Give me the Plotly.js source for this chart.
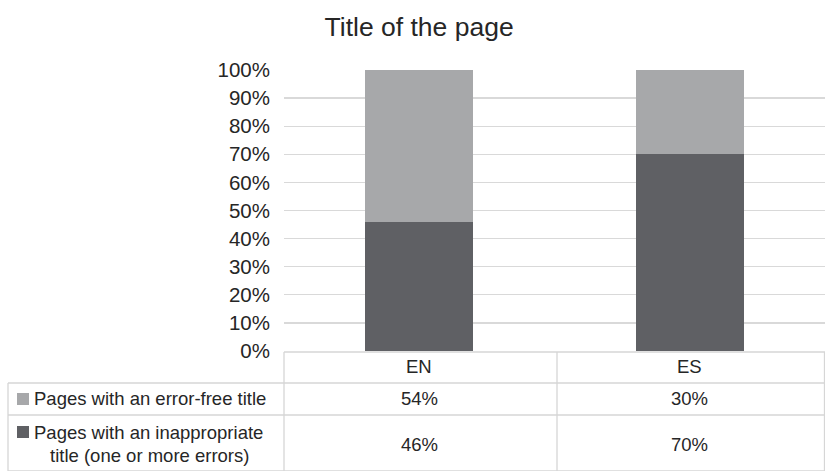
<!DOCTYPE html>
<html><head><meta charset="utf-8">
<script src="https://cdn.plot.ly/plotly-3.0.1.min.js"></script>
<style>html,body{margin:0;padding:0;background:#fff}#chart{width:825px;height:471px}</style>
</head><body><div id="chart"></div>
<script>
const categories = ['EN', 'ES'];
const seriesNames = ['Pages with an error-free title', 'Pages with an inappropriate', 'title (one or more errors)'];
const errorFree = [0.54, 0.30];
const inappropriate = [0.46, 0.70];
const colors = {errorFree: '#a7a8aa', inappropriate: '#5f6064'};

const W = 825, H = 471, ML = 284, MR = 0, MT = 70, MB = 120;
const PW = W - ML - MR, PH = H - MT - MB;
const xp = px => (px - ML) / PW;
const yp = py => (H - MB - py) / PH;
const font = 'Arial, Liberation Sans, Helvetica, sans-serif';
const txt = '#262626';
const lineCol = '#d6d6d6';
const TFS = 18.5;

const traces = [
  {type: 'bar', x: categories, y: inappropriate, name: seriesNames[1], marker: {color: colors.inappropriate}, width: 0.4, hoverinfo: 'skip'},
  {type: 'bar', x: categories, y: errorFree, name: seriesNames[0], marker: {color: colors.errorFree}, width: 0.4, hoverinfo: 'skip'}
];

const shapes = [];
function hline(x0, x1, y) { shapes.push({type: 'line', xref: 'paper', yref: 'paper', x0: xp(x0), x1: xp(x1), y0: yp(y), y1: yp(y), line: {color: lineCol, width: 1.3}}); }
function vline(x, y0, y1) { shapes.push({type: 'line', xref: 'paper', yref: 'paper', x0: xp(x), x1: xp(x), y0: yp(y0), y1: yp(y1), line: {color: lineCol, width: 1.3}}); }
function square(x, y, c) { shapes.push({type: 'rect', xref: 'paper', yref: 'paper', x0: xp(x), x1: xp(x + 12), y0: yp(y - 6), y1: yp(y + 6), line: {width: 0}, fillcolor: c}); }
hline(284, 825, 352);
hline(8, 825, 383);
hline(8, 825, 415);
hline(8, 825, 471);
vline(284, 352, 471);
vline(557, 352, 471);
vline(824.5, 352, 471);
vline(8, 383, 471);
square(17, 399, colors.errorFree);
square(17, 432, colors.inappropriate);

const annotations = [];
const rowY = [399, 444];
const rowVals = [errorFree, inappropriate];
function ann(o) { annotations.push(Object.assign({showarrow: false, yanchor: 'middle', font: {family: font, size: TFS, color: txt}}, o)); }
categories.forEach((c, i) => {
  ann({xref: 'x', yref: 'paper', x: i, xanchor: 'center', y: yp(366), text: c});
  rowVals.forEach((vals, r) => {
    ann({xref: 'x', yref: 'paper', x: i, xanchor: 'center', y: yp(rowY[r]), text: Math.round(vals[i] * 100) + '%'});
  });
});
ann({xref: 'paper', yref: 'paper', x: xp(32), xanchor: 'left', y: yp(399), text: seriesNames[0]});
ann({xref: 'paper', yref: 'paper', x: xp(32), xanchor: 'left', y: yp(432), text: seriesNames[1]});
ann({xref: 'paper', yref: 'paper', x: xp(48), xanchor: 'left', y: yp(455), text: seriesNames[2]});

const layout = {
  width: W, height: H,
  margin: {l: ML, r: MR, t: MT, b: MB},
  paper_bgcolor: '#fff', plot_bgcolor: '#fff',
  barmode: 'stack',
  showlegend: false,
  title: {text: 'Title of the page', x: 0.508, xanchor: 'center', y: 0.944, yanchor: 'middle', font: {family: font, size: 26.5, color: txt}},
  xaxis: {type: 'category', range: [-0.5, 1.5], showticklabels: false, showgrid: false, zeroline: false, showline: false, fixedrange: true},
  yaxis: {range: [0, 1], dtick: 0.1, tickformat: '.0%', showgrid: true, gridcolor: '#d9d9d9', gridwidth: 1.3, zeroline: false, showline: false, ticks: '', ticklabelstandoff: 13, tickfont: {family: font, size: 20.5, color: txt}, fixedrange: true},
  shapes: shapes,
  annotations: annotations
};
Plotly.newPlot('chart', traces, layout, {displayModeBar: false, staticPlot: true});
</script></body></html>
